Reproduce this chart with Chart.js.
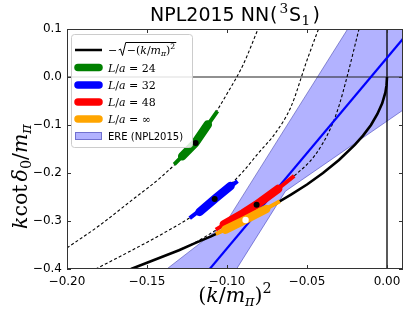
<!DOCTYPE html>
<html><head><meta charset="utf-8">
<script src="https://cdn.jsdelivr.net/npm/chart.js@4.4.0/dist/chart.umd.min.js"></script>
<style>html,body{margin:0;padding:0;background:#fff;}#wrap{width:407px;height:322px;}</style>
</head><body><div id="wrap"><canvas id="c" width="407" height="322"></canvas></div>
<script>
// ---- axis ticks ----
const xTicks = [-0.20, -0.15, -0.10, -0.05, 0.00];
const yTicks = [0.1, 0.0, -0.1, -0.2, -0.3, -0.4];

// ---- -sqrt(-(k/m)^2) curve ----
const rootX = [-0.16, -0.15, -0.14, -0.13, -0.12, -0.11, -0.10, -0.09, -0.08, -0.07, -0.06, -0.05, -0.04, -0.03, -0.02, -0.015, -0.01, -0.006, -0.003, -0.001, -0.0003, 0.0];
const rootY = [-0.400, -0.387, -0.374, -0.361, -0.346, -0.332, -0.316, -0.300, -0.283, -0.265, -0.245, -0.224, -0.200, -0.173, -0.141, -0.122, -0.100, -0.077, -0.055, -0.032, -0.017, 0.0];

// ---- finite-volume (dashed) curves ----
const fv24X = [-0.20, -0.18, -0.16, -0.14, -0.12, -0.11, -0.10, -0.09, -0.08];
const fv24Y = [-0.356, -0.310, -0.258, -0.205, -0.138, -0.090, -0.035, 0.025, 0.105];
const fv32X = [-0.185, -0.16, -0.14, -0.12, -0.11, -0.10, -0.09, -0.08, -0.07, -0.06, -0.05, -0.04];
const fv32Y = [-0.405, -0.362, -0.326, -0.286, -0.260, -0.231, -0.197, -0.157, -0.118, -0.062, 0.035, 0.125];
const fv48X = [-0.165, -0.14, -0.12, -0.105, -0.09, -0.08, -0.07, -0.058, -0.045, -0.035, -0.03, -0.025, -0.0175];
const fv48Y = [-0.406, -0.374, -0.345, -0.315, -0.284, -0.262, -0.238, -0.206, -0.163, -0.105, -0.060, 0.0, 0.100];

// ---- lattice results: thin (outer) and thick (inner) ranges, and central points ----
const l24ThinX = [-0.133, -0.12, -0.106];  const l24ThinY = [-0.182, -0.138, -0.071];
const l24ThickX = [-0.128, -0.12, -0.112]; const l24ThickY = [-0.165, -0.138, -0.099];
const l32ThinX = [-0.1233, -0.1077, -0.0934]; const l32ThinY = [-0.294, -0.254, -0.217];
const l32ThickX = [-0.1171, -0.1077, -0.0978]; const l32ThickY = [-0.281, -0.254, -0.227];
const l48ThinX = [-0.107, -0.09, -0.0815, -0.07, -0.058]; const l48ThinY = [-0.318, -0.284, -0.266, -0.238, -0.206];
const l48ThickX = [-0.102, -0.09, -0.0815, -0.068]; const l48ThickY = [-0.307, -0.284, -0.266, -0.233];
const linfThinX = [-0.107, -0.10, -0.09, -0.08, -0.067]; const linfThinY = [-0.327, -0.316, -0.300, -0.283, -0.259];
const linfThickX = [-0.101, -0.09, -0.0755]; const linfThickY = [-0.318, -0.300, -0.275];
const centerX = [-0.1196, -0.1077, -0.0815]; const centerY = [-0.1375, -0.254, -0.266];
const infCenterX = [-0.0884]; const infCenterY = [-0.298];

// ---- ERE (NPL2015) central line and band ----
const ereX = [-0.115, 0.01]; const ereY = [-0.4166, 0.0797];
const bandX = [-0.20, -0.1012, -0.0635, 0.01];
const bandUpper = [-0.561, -0.306, -0.106, 0.283];
const bandLower = [-0.962, -0.438, -0.238, -0.069];

const pts = (xs, ys) => xs.map((x, i) => ({x: x, y: ys[i]}));
const minus = s => s.replace('-', '\u2212');

const datasets = [
  {data: pts(bandX, bandUpper), borderColor: 'rgba(60,60,170,0.55)', borderWidth: 1, backgroundColor: 'rgba(0,0,255,0.3)', fill: '+1', order: 100},
  {data: pts(bandX, bandLower), borderColor: 'rgba(60,60,170,0.55)', borderWidth: 1, fill: false, order: 100},
  {data: pts([-0.2, 0.01], [0, 0]), borderColor: '#222', borderWidth: 1.2, order: 95},
  {data: pts([0, 0], [-0.4, 0.1]), borderColor: '#000', borderWidth: 1.3, order: 95},
  {data: pts(rootX, rootY), borderColor: '#000', borderWidth: 2.6, order: 90},
  {data: pts(fv24X, fv24Y), borderColor: '#000', borderWidth: 1.1, borderDash: [3, 2.2], cubicInterpolationMode: 'monotone', order: 85},
  {data: pts(fv32X, fv32Y), borderColor: '#000', borderWidth: 1.1, borderDash: [3, 2.2], cubicInterpolationMode: 'monotone', order: 85},
  {data: pts(fv48X, fv48Y), borderColor: '#000', borderWidth: 1.1, borderDash: [3, 2.2], cubicInterpolationMode: 'monotone', order: 85},
  {data: pts(ereX, ereY), borderColor: '#0000ff', borderWidth: 2.2, order: 75},
  {data: pts(l24ThinX, l24ThinY), borderColor: '#008000', borderWidth: 4, order: 61},
  {data: pts(l24ThickX, l24ThickY), borderColor: '#008000', borderWidth: 8.5, borderCapStyle: 'round', order: 60},
  {data: pts(l32ThinX, l32ThinY), borderColor: '#0000ff', borderWidth: 4, order: 59},
  {data: pts(l32ThickX, l32ThickY), borderColor: '#0000ff', borderWidth: 8.5, borderCapStyle: 'round', order: 58},
  {data: pts(l48ThinX, l48ThinY), borderColor: '#ff0000', borderWidth: 4, order: 57},
  {data: pts(l48ThickX, l48ThickY), borderColor: '#ff0000', borderWidth: 8.5, borderCapStyle: 'round', order: 56},
  {data: pts(linfThinX, linfThinY), borderColor: '#ffa500', borderWidth: 4, order: 55},
  {data: pts(linfThickX, linfThickY), borderColor: '#ffa500', borderWidth: 8.5, borderCapStyle: 'round', order: 54},
  {data: pts(centerX, centerY), showLine: false, pointRadius: 3, pointBackgroundColor: '#000', pointBorderWidth: 0, order: 10},
  {data: pts(infCenterX, infCenterY), showLine: false, pointRadius: 3.2, pointBackgroundColor: '#fff', pointBorderWidth: 0, order: 9}
];

const SERIF = '"DejaVu Serif", serif';
function measureParts(ctx, parts, size) {
  let w = 0;
  const items = parts.map(p => {
    const fs = size * (p.s || 1);
    const font = (p.i ? 'italic ' : '') + fs + 'px ' + (p.f || SERIF);
    ctx.font = font;
    const wd = ctx.measureText(p.t).width + (p.g || 0) * size;
    w += wd;
    return {t: p.t, font: font, wd: wd, dy: (p.dy || 0) * size};
  });
  return {items: items, w: w};
}
function drawParts(ctx, parts, x, y, size, align) {
  const m = measureParts(ctx, parts, size);
  let cx = align === 'center' ? x - m.w / 2 : (align === 'right' ? x - m.w : x);
  const xs = [];
  m.items.forEach(it => { ctx.font = it.font; ctx.fillText(it.t, cx, y + it.dy); xs.push(cx); cx += it.wd; });
  xs.push(cx);
  return xs;
}

const decor = {
  id: 'decor',
  afterDatasetsDraw(chart) {
    const ctx = chart.ctx, a = chart.chartArea;
    const xs = chart.scales.x, ys = chart.scales.y;
    ctx.save();
    // frame
    ctx.strokeStyle = '#333'; ctx.lineWidth = 1;
    ctx.strokeRect(Math.round(a.left) + 0.5, Math.round(a.top) + 0.5, Math.round(a.right - a.left) - 1, Math.round(a.bottom - a.top) - 1);
    // inward ticks
    ctx.beginPath();
    xTicks.forEach(v => { const px = Math.round(xs.getPixelForValue(v)) + 0.5; ctx.moveTo(px, a.bottom); ctx.lineTo(px, a.bottom - 4); ctx.moveTo(px, a.top); ctx.lineTo(px, a.top + 4); });
    yTicks.forEach(v => { const py = Math.round(ys.getPixelForValue(v)) + 0.5; ctx.moveTo(a.left, py); ctx.lineTo(a.left + 4, py); ctx.moveTo(a.right, py); ctx.lineTo(a.right - 4, py); });
    ctx.stroke();

    // legend
    const bx = 71.5, by = 34.5, bw = 121, bh = 113;
    ctx.beginPath(); ctx.roundRect(bx, by, bw, bh, 3);
    ctx.fillStyle = 'rgba(255,255,255,0.85)'; ctx.fill();
    ctx.strokeStyle = '#cccccc'; ctx.lineWidth = 1; ctx.stroke();
    const rows = [50, 67.5, 85, 102, 119, 136];
    ctx.strokeStyle = '#000'; ctx.lineWidth = 2.5; ctx.lineCap = 'butt';
    ctx.beginPath(); ctx.moveTo(75, rows[0]); ctx.lineTo(102, rows[0]); ctx.stroke();
    const cols = ['#008000', '#0000ff', '#ff0000', '#ffa500'];
    ctx.lineCap = 'round'; ctx.lineWidth = 7.5;
    cols.forEach((c, i) => { ctx.strokeStyle = c; ctx.beginPath(); ctx.moveTo(78, rows[i + 1]); ctx.lineTo(99, rows[i + 1]); ctx.stroke(); });
    ctx.lineCap = 'butt';
    ctx.fillStyle = 'rgba(0,0,255,0.3)'; ctx.fillRect(75, rows[5] - 4, 27, 8);
    ctx.strokeStyle = 'rgba(60,60,170,0.55)'; ctx.lineWidth = 1; ctx.strokeRect(75.5, rows[5] - 3.5, 26, 7);
    ctx.fillStyle = '#000'; ctx.textBaseline = 'alphabetic'; ctx.textAlign = 'left';
    const ls = 11;
    let b = rows[0] + 4;
    const x0 = drawParts(ctx, [{t: '\u2212'}], 108, b, ls, 'left');
    const rx = x0[1] + 1.5;
    const inner = drawParts(ctx, [{t: '\u2212'}, {t: '('}, {t: 'k', i: 1}, {t: '/'}, {t: 'm', i: 1}, {t: '\u03c0', i: 1, s: 0.7, dy: 0.2}, {t: ')'}, {t: '2', s: 0.7, dy: -0.42}], rx + 8, b, ls, 'left');
    ctx.strokeStyle = '#000'; ctx.lineWidth = 1;
    ctx.beginPath();
    ctx.moveTo(rx, b - 4); ctx.lineTo(rx + 1.8, b - 5); ctx.lineTo(rx + 3.8, b + 1.5); ctx.lineTo(rx + 7, b - 11.5); ctx.lineTo(inner[inner.length - 1] + 1, b - 11.5);
    ctx.stroke();
    ['24', '32', '48', '\u221e'].forEach((n, i) => {
      drawParts(ctx, [{t: 'L', i: 1}, {t: '/'}, {t: 'a', i: 1}, {t: ' = '}, {t: n}], 108, rows[i + 1] + 4, ls, 'left');
    });
    ctx.font = '10px "DejaVu Sans"';
    ctx.fillText('ERE (NPL2015)', 108, rows[5] + 3.5);
    ctx.restore();
  },
  afterDraw(chart) {
    const ctx = chart.ctx, a = chart.chartArea;
    ctx.save();
    ctx.fillStyle = '#000'; ctx.textBaseline = 'alphabetic'; ctx.textAlign = 'left';
    const cx = (a.left + a.right) / 2;
    const SANS = '"DejaVu Sans"';
    // title
    drawParts(ctx, [{t: 'NPL2015 NN', f: SANS, g: 0.05}, {t: '(', f: SANS, g: 0.1}, {t: '3', f: SERIF, s: 0.72, dy: -0.42, g: 0.05}, {t: 'S', f: SANS, g: 0.02}, {t: '1', f: SERIF, s: 0.72, dy: 0.22, g: 0.12}, {t: ')', f: SANS}], cx, 21, 19, 'center');
    // x label
    drawParts(ctx, [{t: '('}, {t: 'k', i: 1}, {t: '/'}, {t: 'm', i: 1}, {t: '\u03c0', i: 1, s: 0.7, dy: 0.2}, {t: ')'}, {t: '2', s: 0.7, dy: -0.45}], cx, 302, 20.5, 'center');
    // y label (rotated)
    ctx.translate(27, 229);
    ctx.rotate(-Math.PI / 2);
    drawParts(ctx, [{t: 'k', i: 1}, {t: 'cot', g: 0.15}, {t: '\u03b4', i: 1}, {t: '0', s: 0.7, dy: 0.2}, {t: '/'}, {t: 'm', i: 1}, {t: '\u03c0', i: 1, s: 0.7, dy: 0.2}], 0, 0, 20.5, 'left');
    ctx.restore();
  }
};

new Chart(document.getElementById('c'), {
  type: 'line',
  data: {datasets: datasets},
  options: {
    responsive: false, animation: false, devicePixelRatio: 1, events: [],
    layout: {padding: {top: 29, right: 3, left: 0, bottom: 0}},
    elements: {point: {radius: 0}, line: {tension: 0}},
    plugins: {legend: {display: false}, tooltip: {enabled: false}, title: {display: false}},
    scales: {
      x: {type: 'linear', min: -0.2, max: 0.01,
        afterFit: s => { s.height = 53; },
        grid: {display: false, drawTicks: false}, border: {display: false},
        ticks: {stepSize: 0.05, includeBounds: false, padding: 6, maxRotation: 0, autoSkip: false, color: '#000',
          font: {family: '"DejaVu Sans"', size: 12}, callback: v => minus(Number(v).toFixed(2))}},
      y: {type: 'linear', min: -0.4, max: 0.1,
        afterFit: s => { s.width = 67; },
        grid: {display: false, drawTicks: false}, border: {display: false},
        ticks: {stepSize: 0.1, includeBounds: false, padding: 5, autoSkip: false, color: '#000',
          font: {family: '"DejaVu Sans"', size: 12}, callback: v => minus(Number(v).toFixed(1))}}
    }
  },
  plugins: [decor]
});
</script></body></html>
